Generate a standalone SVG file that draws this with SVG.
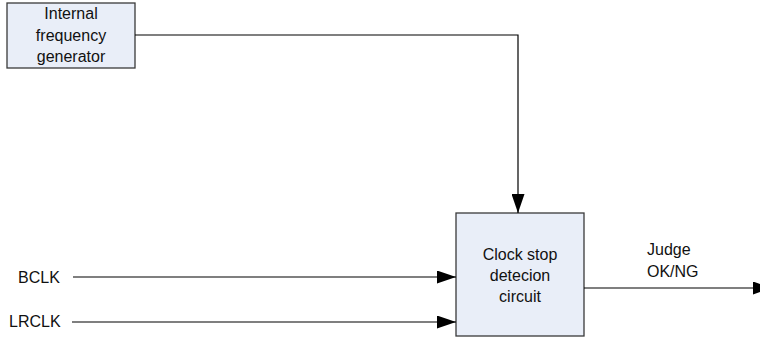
<svg xmlns="http://www.w3.org/2000/svg" width="760" height="338" viewBox="0 0 760 338">
<style>
.box{fill:#e9eef8;stroke:#3a3a3a;stroke-width:1.3}
.t{font-family:"Liberation Sans","Noto Sans CJK JP",sans-serif;font-size:16px;fill:#111}
.c{text-anchor:middle}
.ln{fill:none;stroke:#000;stroke-width:1.2}
</style>
<defs>
<marker id="ah" markerWidth="20" markerHeight="13" refX="19" refY="6.5" orient="auto" markerUnits="userSpaceOnUse">
<path d="M0,0 L19,6.5 L0,13 Z" fill="#000"/>
</marker>
</defs>
<g id="gen">
<rect class="box" x="7" y="3" width="128" height="65"/>
<text class="t c" x="71" y="19">Internal</text>
<text class="t c" x="71" y="41">frequency</text>
<text class="t c" x="71" y="62">generator</text>
</g>
<g id="det">
<rect class="box" x="456" y="213" width="128" height="123"/>
<text class="t c" x="520" y="260">Clock stop</text>
<text class="t c" x="520" y="281">detecion</text>
<text class="t c" x="520" y="302">circuit</text>
</g>
<g id="bclk"><text class="t" x="18" y="283">BCLK</text></g>
<g id="lrclk"><text class="t" x="9" y="327">LRCLK</text></g>
<g id="judge">
<text class="t" x="647" y="255">Judge</text>
<text class="t" x="647" y="277">OK/NG</text>
</g>
<g id="connectors">
<path class="ln" d="M135,35 H518 V213" marker-end="url(#ah)"/>
<path class="ln" d="M73,277 H456" marker-end="url(#ah)"/>
<path class="ln" d="M72,322 H456" marker-end="url(#ah)"/>
<path class="ln" d="M584,288 H772" marker-end="url(#ah)"/>
</g>
</svg>
